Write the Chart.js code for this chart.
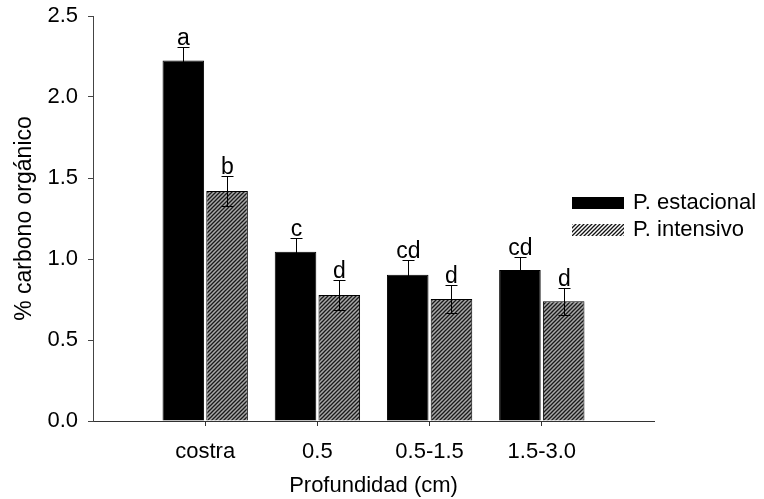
<!DOCTYPE html>
<html>
<head>
<meta charset="utf-8">
<script src="https://cdn.jsdelivr.net/npm/chart.js@4.4.1/dist/chart.umd.min.js"></script>
<style>
  body { margin: 0; background: #fff; }
  canvas { display: block; }
</style>
</head>
<body>
<canvas id="grafico" width="764" height="499"></canvas>
<script>
// datos
const categorias = ['costra', '0.5', '0.5-1.5', '1.5-3.0'];
const estacional = [2.225, 1.045, 0.903, 0.932];
const estacionalErr = [0.085, 0.085, 0.09, 0.08];
const intensivo = [1.42, 0.778, 0.753, 0.739];
const intensivoErr = [0.09, 0.09, 0.085, 0.085];
const letrasEstacional = ['a', 'c', 'cd', 'cd'];
const letrasIntensivo = ['b', 'd', 'd', 'd'];
const yTicks = [0, 0.5, 1.0, 1.5, 2.0, 2.5];

const FUENTE = "'Liberation Sans', Arial, sans-serif";

// trama rayada para P. intensivo
function hacerTrama(fondo, linea) {
    const c = document.createElement('canvas');
    c.width = 4;
    c.height = 4;
    const g = c.getContext('2d');
    g.fillStyle = fondo;
    g.fillRect(0, 0, 4, 4);
    g.strokeStyle = linea;
    g.lineWidth = 1.3;
    g.beginPath();
    g.moveTo(-1, 5); g.lineTo(5, -1);
    g.moveTo(-1, 1); g.lineTo(1, -1);
    g.moveTo(3, 5); g.lineTo(5, 3);
    g.stroke();
    return g.createPattern(c, 'repeat');
}
const tramaBarra = hacerTrama('#a8a8a8', '#1a1a1a');
const tramaLeyenda = hacerTrama('#ffffff', '#111111');

function puntos(valores) {
    return valores.map((v, i) => ({ x: i + 1, y: v }));
}

// barras de error y letras encima
const erroresPlugin = {
    id: 'errores',
    afterDatasetsDraw(chart) {
        const ctx = chart.ctx;
        const y = chart.scales.y;
        const errs = [estacionalErr, intensivoErr];
        const letras = [letrasEstacional, letrasIntensivo];
        ctx.save();
        ctx.strokeStyle = '#000';
        ctx.lineWidth = 1;
        ctx.fillStyle = '#000';
        ctx.font = '23px ' + FUENTE;
        ctx.textAlign = 'center';
        ctx.textBaseline = 'alphabetic';
        chart.data.datasets.forEach((ds, d) => {
            chart.getDatasetMeta(d).data.forEach((bar, i) => {
                const v = ds.data[i].y;
                const top = Math.round(y.getPixelForValue(v + errs[d][i])) + 0.5;
                const bot = Math.round(y.getPixelForValue(v - errs[d][i])) + 0.5;
                const x = Math.round(bar.x) + 0.5;
                ctx.beginPath();
                ctx.moveTo(x, top); ctx.lineTo(x, bot);
                ctx.moveTo(x - 6, top); ctx.lineTo(x + 6, top);
                ctx.moveTo(x - 6, bot); ctx.lineTo(x + 6, bot);
                ctx.stroke();
                ctx.fillText(letras[d][i], x, top - 3);
            });
        });
        ctx.restore();
    }
};

// leyenda a la derecha
const leyendaPlugin = {
    id: 'leyenda',
    afterDraw(chart) {
        const ctx = chart.ctx;
        ctx.save();
        ctx.font = '22px ' + FUENTE;
        ctx.textBaseline = 'middle';
        chart.data.datasets.forEach((ds, d) => {
            const cy = 203 + d * 27;
            ctx.fillStyle = d === 0 ? '#000' : tramaLeyenda;
            ctx.fillRect(572, cy - 6, 52, 12);
            ctx.fillStyle = '#000';
            ctx.fillText(ds.label, 633, cy);
        });
        ctx.restore();
    }
};

const ctx = document.getElementById('grafico').getContext('2d');
const grafico = new Chart(ctx, {
    type: 'bar',
    data: {
        datasets: [{
            label: 'P. estacional',
            data: puntos(estacional),
            backgroundColor: '#000',
            borderColor: '#000',
            borderWidth: 1,
            categoryPercentage: 0.78,
            barPercentage: 0.95
        }, {
            label: 'P. intensivo',
            data: puntos(intensivo),
            backgroundColor: tramaBarra,
            borderColor: '#000',
            borderWidth: 1,
            categoryPercentage: 0.78,
            barPercentage: 0.95
        }]
    },
    options: {
        responsive: false,
        animation: false,
        layout: { autoPadding: false, padding: { top: 16, right: 110, left: 0, bottom: 0 } },
        plugins: {
            legend: { display: false },
            tooltip: { enabled: false }
        },
        scales: {
            x: {
                type: 'linear',
                min: 0,
                max: categorias.length + 1,
                offset: false,
                afterBuildTicks: axis => {
                    axis.ticks = categorias.map((_, i) => ({ value: i + 1 }));
                },
                afterFit: scale => {
                    scale.height = 78;
                    scale.paddingLeft = 0;
                    scale.paddingRight = 0;
                },
                ticks: {
                    callback: v => categorias[v - 1],
                    color: '#000',
                    font: { family: FUENTE, size: 22 },
                    padding: 13,
                    maxRotation: 0,
                    autoSkip: false
                },
                grid: { offset: false, drawOnChartArea: false, color: '#333', tickLength: 5 },
                border: { display: true, color: '#333', width: 1 },
                title: {
                    display: true,
                    text: 'Profundidad (cm)',
                    color: '#000',
                    font: { family: FUENTE, size: 22 },
                    padding: { top: 0, bottom: 0 }
                }
            },
            y: {
                min: 0,
                max: 2.5,
                afterBuildTicks: axis => {
                    axis.ticks = yTicks.map(v => ({ value: v }));
                },
                afterFit: scale => {
                    scale.width = 93;
                    scale.paddingTop = 0;
                    scale.paddingBottom = 0;
                },
                ticks: {
                    callback: v => v.toFixed(1),
                    color: '#000',
                    font: { family: FUENTE, size: 22 },
                    padding: 10
                },
                grid: { drawOnChartArea: false, color: '#444', tickLength: 5 },
                border: { display: true, color: '#444', width: 1 },
                title: {
                    display: true,
                    text: '% carbono orgánico',
                    color: '#000',
                    font: { family: FUENTE, size: 23 },
                    padding: { top: 11, bottom: 0 }
                }
            }
        }
    },
    plugins: [erroresPlugin, leyendaPlugin]
});
</script>
</body>
</html>
